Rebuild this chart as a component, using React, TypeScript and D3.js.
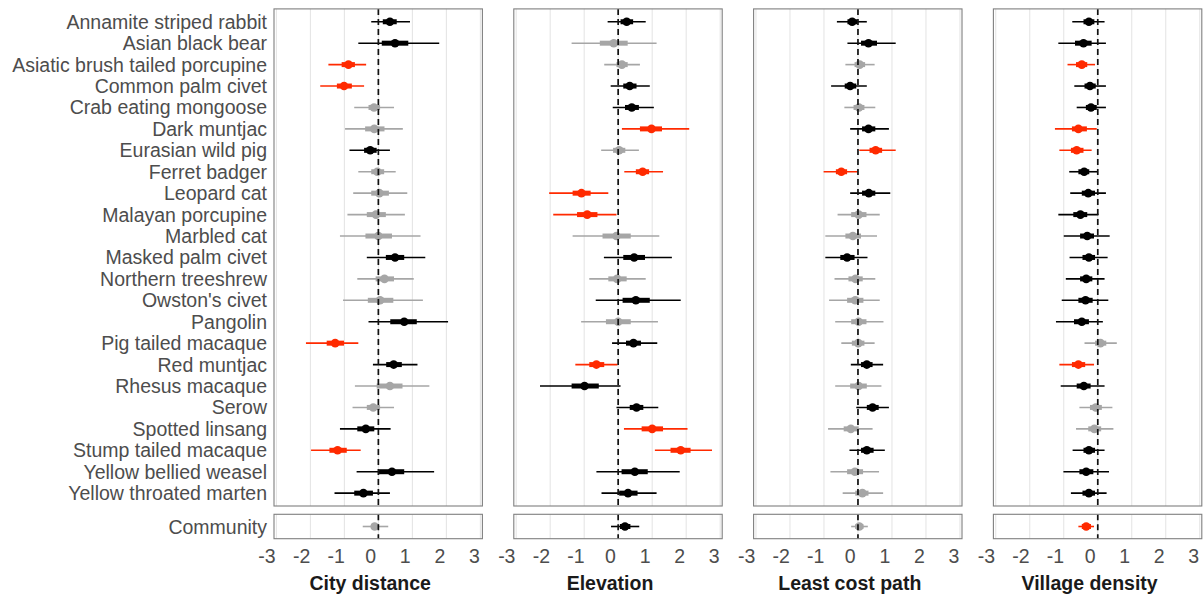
import React from "react";
import * as d3 from "d3";

// species rows (top to bottom), last entry of every value array is the community estimate
const species = [
  "Annamite striped rabbit", "Asian black bear", "Asiatic brush tailed porcupine",
  "Common palm civet", "Crab eating mongoose", "Dark muntjac", "Eurasian wild pig",
  "Ferret badger", "Leopard cat", "Malayan porcupine", "Marbled cat",
  "Masked palm civet", "Northern treeshrew", "Owston's civet", "Pangolin",
  "Pig tailed macaque", "Red muntjac", "Rhesus macaque", "Serow", "Spotted linsang",
  "Stump tailed macaque", "Yellow bellied weasel", "Yellow throated marten",
];
const communityLabel = "Community";
const covariates = ["City distance", "Elevation", "Least cost path", "Village density"];
const xTicks = [-3, -2, -1, 0, 1, 2, 3];

// City distance
const cityMid = [0.34, 0.49, -0.88, -1.01, -0.13, -0.12, -0.24, -0.03, 0.03, -0.07, 0.0, 0.49, 0.18, 0.05, 0.76, -1.27, 0.45, 0.34, -0.15, -0.37, -1.2, 0.4, -0.44, -0.11];
const cityLo = [-0.21, -0.59, -1.47, -1.71, -0.71, -0.98, -0.85, -0.59, -0.74, -0.91, -1.13, -0.34, -0.62, -1.04, -0.29, -2.13, -0.16, -0.69, -0.76, -1.13, -1.98, -0.64, -1.29, -0.46];
const cityHi = [0.93, 1.79, -0.36, -0.42, 0.46, 0.72, 0.34, 0.51, 0.85, 0.78, 1.24, 1.38, 1.04, 1.31, 2.05, -0.59, 1.15, 1.5, 0.46, 0.36, -0.52, 1.64, 0.34, 0.29];
const cityLo50 = [0.13, 0.1, -1.08, -1.22, -0.29, -0.39, -0.42, -0.21, -0.21, -0.34, -0.38, 0.22, -0.08, -0.31, 0.35, -1.52, 0.23, -0.05, -0.34, -0.62, -1.44, 0.02, -0.71, -0.21];
const cityHi50 = [0.54, 0.88, -0.69, -0.78, 0.05, 0.18, -0.05, 0.17, 0.31, 0.22, 0.4, 0.76, 0.46, 0.44, 1.13, -1.01, 0.69, 0.71, 0.05, -0.12, -0.93, 0.76, -0.16, 0.02];
const cityCol = "kkrrggkggggkggkrkggkrkkg";

// Elevation
const elevMid = [0.25, -0.13, 0.11, 0.34, 0.4, 0.98, 0.03, 0.72, -1.08, -0.91, -0.05, 0.47, -0.03, 0.52, 0.0, 0.45, -0.64, -0.99, 0.54, 1.0, 1.84, 0.49, 0.29, 0.2];
const elevLo = [-0.31, -1.37, -0.41, -0.22, -0.16, 0.11, -0.5, 0.18, -2.03, -1.91, -1.34, -0.42, -0.85, -0.66, -1.09, -0.18, -1.26, -2.3, -0.05, 0.17, 1.08, -0.64, -0.49, -0.21];
const elevHi = [0.81, 1.13, 0.64, 0.93, 1.05, 2.09, 0.61, 1.32, -0.29, -0.05, 1.21, 1.58, 0.81, 1.84, 1.17, 1.15, -0.02, 0.07, 1.18, 2.04, 2.76, 1.81, 1.13, 0.62];
const elevLo50 = [0.07, -0.54, -0.05, 0.15, 0.2, 0.64, -0.15, 0.52, -1.34, -1.21, -0.46, 0.15, -0.29, 0.13, -0.36, 0.23, -0.85, -1.37, 0.34, 0.69, 1.54, 0.1, 0.03, 0.05];
const elevHi50 = [0.44, 0.28, 0.28, 0.54, 0.61, 1.29, 0.21, 0.91, -0.81, -0.61, 0.37, 0.79, 0.25, 0.93, 0.37, 0.67, -0.41, -0.57, 0.74, 1.32, 2.13, 0.87, 0.57, 0.36];
const elevCol = "kggkkrgrrrgkgkgkrkkrrkkk";

// Least cost path
const lcpMid = [-0.17, 0.31, 0.05, -0.23, 0.03, 0.31, 0.52, -0.49, 0.32, 0.02, -0.15, -0.32, -0.07, -0.08, 0.02, 0.01, 0.26, 0.02, 0.43, -0.21, 0.26, -0.09, 0.13, 0.04];
const lcpLo = [-0.62, -0.31, -0.37, -0.79, -0.4, -0.23, 0.04, -1.01, -0.23, -0.6, -0.96, -0.96, -0.69, -0.85, -0.67, -0.49, -0.21, -0.67, -0.05, -0.88, -0.25, -0.81, -0.45, -0.2];
const lcpHi = [0.26, 1.11, 0.49, 0.26, 0.51, 0.91, 1.11, -0.01, 0.95, 0.64, 0.56, 0.28, 0.51, 0.64, 0.75, 0.49, 0.74, 0.69, 0.91, 0.43, 0.79, 0.62, 0.74, 0.29];
const lcpLo50 = [-0.31, 0.09, -0.1, -0.39, -0.13, 0.12, 0.34, -0.65, 0.12, -0.2, -0.37, -0.52, -0.28, -0.32, -0.2, -0.18, 0.09, -0.23, 0.26, -0.42, 0.09, -0.32, -0.08, -0.08];
const lcpHi50 = [-0.01, 0.56, 0.21, -0.05, 0.19, 0.51, 0.71, -0.32, 0.51, 0.25, 0.09, -0.1, 0.14, 0.16, 0.25, 0.19, 0.43, 0.26, 0.61, 0.02, 0.46, 0.15, 0.31, 0.16];
const lcpCol = "kkgkgkrrkggkggggkgkgkggg";

// Village density
const vilMid = [-0.26, -0.42, -0.47, -0.23, -0.2, -0.57, -0.62, -0.4, -0.28, -0.51, -0.31, -0.26, -0.34, -0.36, -0.47, 0.08, -0.57, -0.41, -0.06, -0.1, -0.26, -0.34, -0.26, -0.34];
const vilLo = [-0.75, -1.16, -0.89, -0.69, -0.62, -1.26, -1.13, -0.84, -0.81, -1.16, -1.0, -0.83, -0.94, -1.06, -1.23, -0.39, -1.13, -1.09, -0.54, -0.64, -0.74, -1.01, -0.79, -0.57];
const vilHi = [0.2, 0.24, -0.08, 0.24, 0.24, -0.03, -0.18, 0.0, 0.24, 0.02, 0.35, 0.29, 0.2, 0.31, 0.15, 0.56, -0.11, 0.2, 0.43, 0.46, 0.2, 0.33, 0.26, -0.11];
const vilLo50 = [-0.42, -0.67, -0.64, -0.39, -0.35, -0.76, -0.79, -0.57, -0.47, -0.72, -0.52, -0.45, -0.52, -0.57, -0.7, -0.08, -0.76, -0.62, -0.23, -0.28, -0.42, -0.54, -0.45, -0.47];
const vilHi50 = [-0.1, -0.18, -0.31, -0.06, -0.03, -0.32, -0.42, -0.25, -0.08, -0.31, -0.11, -0.08, -0.16, -0.15, -0.26, 0.25, -0.37, -0.21, 0.12, 0.1, -0.08, -0.13, -0.08, -0.2];
const vilCol = "kkrkkrrkkkkkkkkgrkggkkkr";

const colours: Record<string, string> = { k: "#000000", g: "#a6a6a6", r: "#ff2a00" };

const panels = [
  { mid: cityMid, lo: cityLo, hi: cityHi, lo50: cityLo50, hi50: cityHi50, col: cityCol },
  { mid: elevMid, lo: elevLo, hi: elevHi, lo50: elevLo50, hi50: elevHi50, col: elevCol },
  { mid: lcpMid, lo: lcpLo, hi: lcpHi, lo50: lcpLo50, hi50: lcpHi50, col: lcpCol },
  { mid: vilMid, lo: vilLo, hi: vilHi, lo50: vilLo50, hi50: vilHi50, col: vilCol },
];

const W = 1203;
const H = 599;
const font = "'Liberation Sans', Arial, sans-serif";
const fs = 19.5;
const panelLeft0 = 274;
const panelStep = 239.8;
const panelW = 208.4;
const mainTop = 8.9;
const mainBottom = 506;
const comTop = 514.3;
const comBottom = 538.7;

export default function App() {
  const y = d3.scalePoint<string>().domain(species).range([mainTop, mainBottom]).padding(0.6);
  const comY = (comTop + comBottom) / 2;

  const marks = (p: typeof panels[0], x: d3.ScaleLinear<number, number>, i: number, yy: number) => {
    const c = colours[p.col[i]];
    return (
      <g key={i}>
        <line x1={x(p.lo[i])} x2={x(p.hi[i])} y1={yy} y2={yy} stroke={c} strokeWidth={1.6} />
        <line x1={x(p.lo50[i])} x2={x(p.hi50[i])} y1={yy} y2={yy} stroke={c} strokeWidth={5} />
        <circle cx={x(p.mid[i])} cy={yy} r={4.3} fill={c} />
      </g>
    );
  };

  return (
    <svg width={W} height={H} style={{ position: "absolute", left: 0, top: 0 }} fontFamily={font}>
      <rect width={W} height={H} fill="#fff" />
      {species.map((s) => (
        <text key={s} x={panelLeft0 - 7} y={y(s)} textAnchor="end" dominantBaseline="central" fontSize={fs} fill="#4d4d4d">
          {s}
        </text>
      ))}
      <text x={panelLeft0 - 7} y={comY} textAnchor="end" dominantBaseline="central" fontSize={fs} fill="#4d4d4d">
        {communityLabel}
      </text>
      {panels.map((p, k) => {
        const left = panelLeft0 + k * panelStep;
        const x = d3.scaleLinear().domain([-3.07, 3.06]).range([left, left + panelW]);
        const lx = d3.scaleLinear().domain([-3, 3]).range([left - 7, left + panelW - 8]);
        const boxes = [
          [mainTop, mainBottom],
          [comTop, comBottom],
        ];
        return (
          <g key={k}>
            {boxes.map(([t, b], j) => (
              <g key={j}>
                {xTicks.map((v) => (
                  <line key={v} x1={x(v)} x2={x(v)} y1={t} y2={b} stroke="#e3e3e3" strokeWidth={1} />
                ))}
              </g>
            ))}
            {species.map((s, i) => marks(p, x, i, y(s) as number))}
            {marks(p, x, species.length, comY)}
            {boxes.map(([t, b], j) => (
              <g key={"d" + j}>
                <line x1={x(0)} x2={x(0)} y1={t} y2={b} stroke="#111" strokeWidth={1.7} strokeDasharray="6,4" />
                <rect x={left} y={t} width={panelW} height={b - t} fill="none" stroke="#7f7f7f" strokeWidth={1.1} />
              </g>
            ))}
            {xTicks.map((v) => (
              <text key={v} x={lx(v)} y={563} textAnchor="middle" fontSize={fs} fill="#4d4d4d">
                {v}
              </text>
            ))}
            <text x={left + panelW / 2 - 8} y={590} textAnchor="middle" fontSize={fs} fontWeight="bold" fill="#1a1a1a">
              {covariates[k]}
            </text>
          </g>
        );
      })}
    </svg>
  );
}
